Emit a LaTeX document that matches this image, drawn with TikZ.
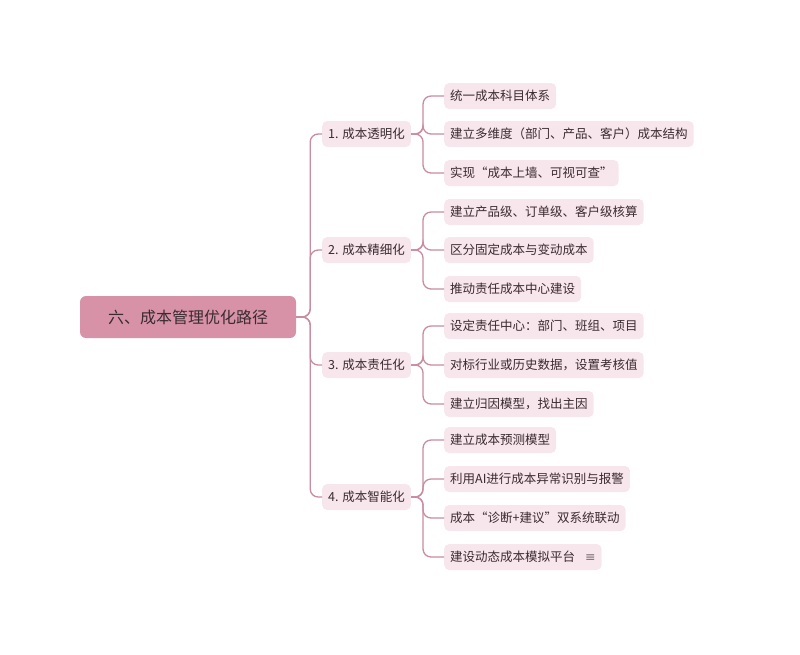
\documentclass[tikz,border=0pt]{standalone}
\usepackage{fontspec}
\setmainfont{Noto Sans CJK SC}
\newfontfamily\symb{DejaVu Sans}
\definecolor{rootfill}{HTML}{D892A7}
\definecolor{leaffill}{HTML}{F7E6EB}
\definecolor{lien}{HTML}{C98CA0}
\definecolor{texte}{HTML}{3A2B31}
\begin{document}
\begin{tikzpicture}[x=1pt,y=-1pt]
	\tikzset{racine/.style={rounded corners=6pt, fill=rootfill, text=texte, minimum height=42pt, minimum width=216pt, font=\fontsize{16}{18}\selectfont},
		branche/.style={rounded corners=5pt, fill=leaffill, text=texte, minimum height=26pt, inner xsep=6pt, anchor=west, font=\fontsize{12.5}{14}\selectfont},
		feuille/.style={branche},
		lien/.style={draw=lien, line width=1.3pt, rounded corners=8pt}};
	\useasboundingbox (0,0) rectangle (800,654);
	\node[racine] (r) at (188,317) {六、成本管理优化路径};

	\node[branche] (b1) at (322,134) {1. 成本透明化};
	\node[branche] (b2) at (322,250) {2. 成本精细化};
	\node[branche] (b3) at (322,365) {3. 成本责任化};
	\node[branche] (b4) at (322,497) {4. 成本智能化};

	\node[feuille] (f11) at (444,96) {统一成本科目体系};
	\node[feuille] (f12) at (444,134) {建立多维度（部门、产品、客户）成本结构};
	\node[feuille] (f13) at (444,173) {实现“成本上墙、可视可查”};
	\node[feuille] (f21) at (444,212) {建立产品级、订单级、客户级核算};
	\node[feuille] (f22) at (444,250) {区分固定成本与变动成本};
	\node[feuille] (f23) at (444,289) {推动责任成本中心建设};
	\node[feuille] (f31) at (444,326) {设定责任中心：部门、班组、项目};
	\node[feuille] (f32) at (444,365) {对标行业或历史数据，设置考核值};
	\node[feuille] (f33) at (444,404) {建立归因模型，找出主因};
	\node[feuille] (f41) at (444,440) {建立成本预测模型};
	\node[feuille] (f42) at (444,479) {利用AI进行成本异常识别与报警};
	\node[feuille] (f43) at (444,518) {成本“诊断+建议”双系统联动};
	\node[feuille] (f44) at (444,557) {建设动态成本模拟平台\hspace{10pt}{\symb\color{texte!70}≡}};

	\foreach \b in {b1,b2,b3,b4}
		\draw[lien] (r.east) -- ++(14,0) |- (\b.west);
	\foreach \b/\f in {b1/f11,b1/f12,b1/f13,b2/f21,b2/f22,b2/f23,b3/f31,b3/f32,b3/f33,b4/f41,b4/f42,b4/f43,b4/f44}
		\draw[lien] (\b.east) -- ++(12,0) |- (\f.west);
\end{tikzpicture}
\end{document}
